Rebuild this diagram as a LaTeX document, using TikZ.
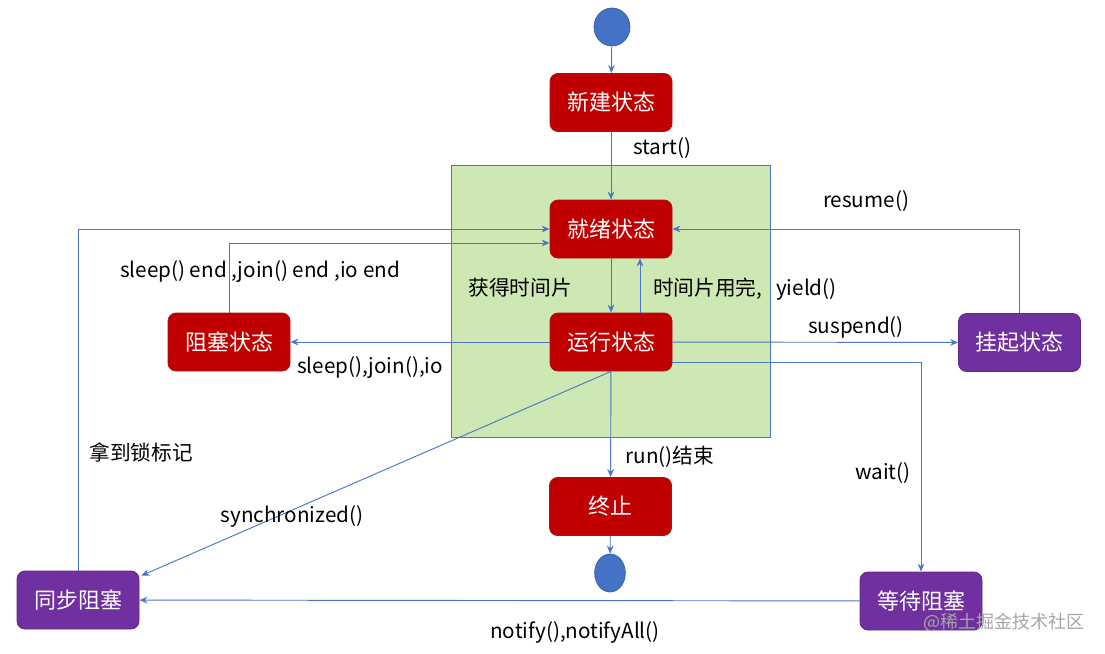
\documentclass[tikz,border=0pt]{standalone}
\usepackage{fontspec}
\setmainfont{Noto Sans CJK SC}
\usetikzlibrary{arrows.meta,calc,shapes.geometric}
\definecolor{lineblue}{HTML}{4A76C6}
\definecolor{boxred}{HTML}{C00000}
\definecolor{boxredb}{HTML}{A3161C}
\definecolor{boxpur}{HTML}{7030A0}
\definecolor{boxpurb}{HTML}{5E2A86}
\definecolor{greenbg}{HTML}{CDE8B2}
\definecolor{circblue}{HTML}{4472C4}
\tikzset{
  state/.style={draw, rounded corners=6pt, minimum width=91.5pt, minimum height=43.5pt,
    line width=0.6pt, text=white, font=\fontsize{16.5}{18}\selectfont, inner sep=0pt},
  redbox/.style={state, fill=boxred, draw=boxredb},
  purbox/.style={state, fill=boxpur, draw=boxpurb},
  dot/.style={ellipse, fill=circblue, draw=circblue!80!black, line width=0.5pt, minimum width=27pt, minimum height=28.5pt, inner sep=0pt},
  arr/.style={draw=lineblue, line width=0.7pt, -{Stealth[length=6pt,width=5pt]}},
  lbl/.style={font=\fontsize{15.5}{17}\selectfont, text=black, inner sep=0pt},
}
\begin{document}
\begin{tikzpicture}[x=0.75pt,y=-0.75pt]
\useasboundingbox (0,0) rectangle (1105,653);
% green region
\node[draw=lineblue, fill=greenbg, line width=0.6pt, minimum width=239.25pt, minimum height=204pt, inner sep=0pt] (zone) at (610.5,301) {};
% nodes
\node[dot] (start) at (612,27) {};
\node[redbox] (new) at (611,102.5) {新建状态};
\node[redbox] (ready) at (611,229) {就绪状态};
\node[redbox] (run) at (611,342) {运行状态};
\node[redbox] (block) at (229,342) {阻塞状态};
\node[purbox] (susp) at (1019.5,342.5) {挂起状态};
\node[redbox] (term) at (610.5,506.5) {终止};
\node[dot, minimum width=23pt] (end) at (610,573) {};
\node[purbox] (wait) at (921,601) {等待阻塞};
\node[purbox] (sync) at (78,600) {同步阻塞};
% connectors
\draw[arr] (start) -- (new);
\draw[arr] (new) -- (ready);
\draw[arr] (ready) -- (run);
\draw[arr] ($(run.north)+(29,0)$) -- ($(ready.south)+(29,0)$);
\draw[arr] (run) -- (block);
\draw[arr] (block.north) |- ($(ready.west)+(0,14)$);
\draw[arr] (run) -- (susp);
\draw[arr] (susp.north) |- (ready.east);
\draw[arr] ($(run.east)+(0,20)$) -| (wait.north);
\draw[arr] (run.south) -- ($(sync.north east)+(2,5)$);
\draw[arr] (sync.north) |- (ready.west);
\draw[arr] (run) -- (term);
\draw[arr] (term) -- (end);
\draw[arr] (wait) -- (sync);
% labels
\node[lbl] (l1) at (662,148) {start()};
\node[lbl] (l2) at (520,288) {获得时间片};
\node[lbl] (l3) at (745,289) {时间片用完,\ \ \ yield()};
\node[lbl] (l4) at (260,272) {sleep() end ,join() end ,io end};
\node[lbl] (l5) at (370,368) {sleep(),join(),io};
\node[lbl] (l6) at (866,201) {resume()};
\node[lbl] (l7) at (856,327) {suspend()};
\node[lbl] (l8) at (141,452) {拿到锁标记};
\node[lbl] (l9) at (292,516) {synchronized()};
\node[lbl] (l10) at (670,457) {run()结束};
\node[lbl] (l11) at (883,473) {wait()};
\node[lbl] (l12) at (575,632) {notify(),notifyAll()};
\node[font=\fontsize{13.5}{15}\selectfont, text=black!35, inner sep=0pt] (wm) at (1004,622) {@稀土掘金技术社区};
\end{tikzpicture}
\end{document}
